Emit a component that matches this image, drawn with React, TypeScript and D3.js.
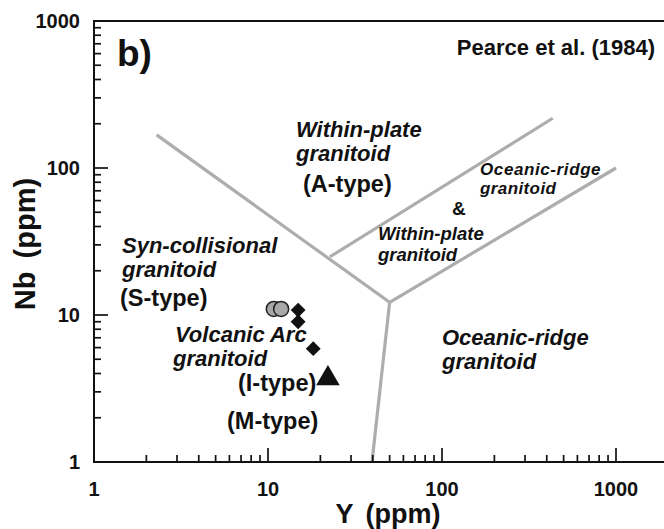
import React from "react";
import * as d3 from "d3";

const W = 664;
const H = 529;

// Tick values
const xTickValues = [1, 10, 100, 1000];
const yTickValues = [1, 10, 100, 1000];
const xTickLabels = ["1", "10", "100", "1000"];
const yTickLabels = ["1", "10", "100", "1000"];

// Boundary lines [Y, Nb]
const boundaryUpperLeft = [[2.29, 168], [50, 12.2]];
const boundaryLower = [[50, 12.2], [39.6, 1]];
const boundaryORG = [[50, 12.2], [1000, 100]];
const boundaryWPG = [[22.7, 24.9], [433, 218]];

// Data series
const circleY = [10.8, 11.9];
const circleNb = [11.0, 11.0];
const diamondY = [14.9, 14.9, 18.2];
const diamondNb = [10.8, 9.0, 5.9];
const triangleY = [22.1];
const triangleNb = [3.7];

const FONT = "'Liberation Sans', Arial, Helvetica, sans-serif";

export default function App() {
  const x = d3.scaleLog().domain([1, 1000]).range([94, 616]);
  const y = d3.scaleLog().domain([1, 1000]).range([462, 21]);
  const xMax = 3000;

  const minorTicks = (lo: number, hi: number) => {
    const out: number[] = [];
    for (let d = lo; d < hi; d *= 10) {
      for (let k = 2; k <= 9; k++) out.push(d * k);
    }
    return out;
  };
  const xMinor = minorTicks(1, 1000);
  const yMinor = minorTicks(1, 1000);

  const line = d3
    .line<number[]>()
    .x((d) => x(d[0]))
    .y((d) => y(d[1]));

  const boundaries = [boundaryUpperLeft, boundaryLower, boundaryORG, boundaryWPG];

  const diamond = d3.symbol().type(d3.symbolSquare).size(110)();
  const tri = d3.symbol().type(d3.symbolTriangle).size(240)();

  const lbl = (t: string, px: number, py: number, size: number, italic = true, anchor = "start", ls = 0) => (
    <text
      x={px}
      y={py}
      fontSize={size}
      fontWeight="bold"
      fontStyle={italic ? "italic" : "normal"}
      textAnchor={anchor}
      letterSpacing={ls}
      fill="#111"
    >
      {t}
    </text>
  );

  return (
    <svg
      width={W}
      height={H}
      style={{ position: "absolute", left: 0, top: 0, background: "#fff" }}
      fontFamily={FONT}
    >
      <rect x={0} y={0} width={W} height={H} fill="#fff" />
      {/* boundaries */}
      {boundaries.map((b, i) => (
        <path key={i} d={line(b) || ""} stroke="#adadad" strokeWidth={3.2} fill="none" />
      ))}

      {/* frame */}
      <line x1={x(1)} x2={x(1)} y1={y(1)} y2={y(1000)} stroke="#111" strokeWidth={2} />
      <line x1={x(1) - 1} x2={x(xMax)} y1={y(1)} y2={y(1)} stroke="#111" strokeWidth={2} />
      <line x1={x(1) - 1} x2={x(xMax)} y1={y(1000)} y2={y(1000)} stroke="#111" strokeWidth={2} />

      {/* ticks */}
      {xMinor.map((v) => (
        <line key={"xm" + v} x1={x(v)} x2={x(v)} y1={y(1)} y2={y(1) - 7} stroke="#111" strokeWidth={1.7} />
      ))}
      {xTickValues.map((v) => (
        <line key={"xM" + v} x1={x(v)} x2={x(v)} y1={y(1)} y2={y(1) - 14} stroke="#111" strokeWidth={1.7} />
      ))}
      {yMinor.map((v) => (
        <line key={"ym" + v} x1={x(1)} x2={x(1) + 7} y1={y(v)} y2={y(v)} stroke="#111" strokeWidth={1.7} />
      ))}
      {yTickValues.map((v) => (
        <line key={"yM" + v} x1={x(1)} x2={x(1) + 14} y1={y(v)} y2={y(v)} stroke="#111" strokeWidth={1.7} />
      ))}

      {/* tick labels */}
      {xTickValues.map((v, i) => (
        <text key={"xl" + v} x={x(v)} y={496} textAnchor="middle" fontSize={20} fontWeight="bold" fill="#111">
          {xTickLabels[i]}
        </text>
      ))}
      {yTickValues.map((v, i) => (
        <text key={"yl" + v} x={80} y={y(v) + 7} textAnchor="end" fontSize={20} fontWeight="bold" fill="#111">
          {yTickLabels[i]}
        </text>
      ))}

      {/* axis titles */}
      <text x={388} y={523} textAnchor="middle" fontSize={27} fontWeight="bold" fill="#111" wordSpacing={5}>
        Y (ppm)
      </text>
      <text
        transform={`translate(35,244) rotate(-90)`}
        textAnchor="middle"
        fontSize={29}
        fontWeight="bold"
        fill="#111"
        wordSpacing={5}
      >
        Nb (ppm)
      </text>

      {/* panel label and reference */}
      {lbl("b)", 117, 66, 37, false)}
      {lbl("Pearce et al. (1984)", 655, 55, 22, false, "end")}

      {/* field labels */}
      {lbl("Within-plate", 296, 137, 22)}
      {lbl("granitoid", 296, 161, 22)}
      {lbl("(A-type)", 303, 192, 23.5, false)}

      {lbl("Syn-collisional", 122, 253, 22)}
      {lbl("granitoid", 122, 277, 22)}
      {lbl("(S-type)", 120, 306, 23.5, false)}

      {lbl("Volcanic Arc", 175, 342, 22)}
      {lbl("granitoid", 173, 366, 22)}
      {lbl("(I-type)", 238, 391, 23.5, false)}
      {lbl("(M-type)", 227, 429, 23.5, false)}

      {lbl("Oceanic-ridge", 480, 175, 17, true, "start", 0.6)}
      {lbl("granitoid", 480, 194, 17, true, "start", 0.4)}
      {lbl("&", 452, 215, 19, false)}
      {lbl("Within-plate", 378, 240, 18.5)}
      {lbl("granitoid", 378, 261, 18.5)}

      {lbl("Oceanic-ridge", 442, 345, 22)}
      {lbl("granitoid", 442, 369, 22)}

      {/* data */}
      {circleY.map((v, i) => (
        <circle key={"c" + i} cx={x(v)} cy={y(circleNb[i])} r={7.5} fill="#a8a8a8" stroke="#222" strokeWidth={1.5} />
      ))}
      {diamondY.map((v, i) => (
        <path
          key={"d" + i}
          d={diamond || ""}
          transform={`translate(${x(v)},${y(diamondNb[i])}) rotate(45)`}
          fill="#111"
        />
      ))}
      {triangleY.map((v, i) => (
        <path key={"t" + i} d={tri || ""} transform={`translate(${x(v)},${y(triangleNb[i])})`} fill="#111" />
      ))}
    </svg>
  );
}
